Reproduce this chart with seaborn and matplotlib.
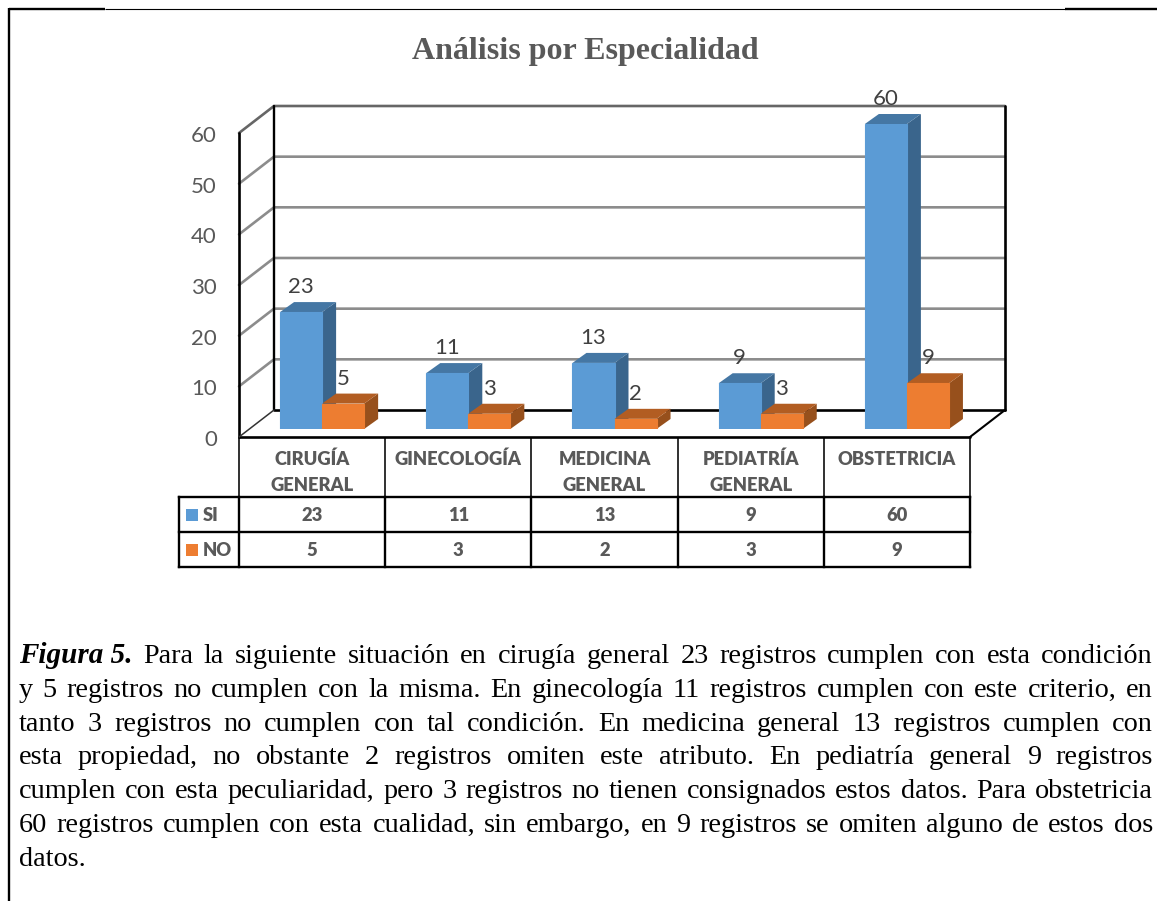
import matplotlib
matplotlib.use("Agg")
import matplotlib.pyplot as plt
from matplotlib.patches import Polygon, Rectangle
from matplotlib.transforms import ScaledTranslation
import pandas as pd
import seaborn as sns

# Chart data
especialidades = ["CIRUGÍA\nGENERAL", "GINECOLOGÍA", "MEDICINA\nGENERAL", "PEDIATRÍA\nGENERAL", "OBSTETRICIA"]
si_valores = [23, 11, 13, 9, 60]
no_valores = [5, 3, 2, 3, 9]
y_ticks = [0, 10, 20, 30, 40, 50, 60]

titulo = "Análisis por Especialidad"
pie_lineas = [
    "Para la siguiente situación en cirugía general 23 registros cumplen con esta condición",
    "y 5 registros no cumplen con la misma. En ginecología 11 registros cumplen con este criterio, en",
    "tanto 3 registros no cumplen con tal condición. En medicina general 13 registros cumplen con",
    "esta propiedad, no obstante 2 registros omiten este atributo. En pediatría general 9 registros",
    "cumplen con esta peculiaridad, pero 3 registros no tienen consignados estos datos. Para obstetricia",
    "60 registros cumplen con esta cualidad, sin embargo, en 9 registros se omiten alguno de estos dos",
    "datos.",
]
pie_inicio = "Figura 5."

# Colours
AZUL, AZUL_TOPE, AZUL_LADO = "#5B9BD5", "#4577A4", "#3A658C"
NARANJA, NARANJA_TOPE, NARANJA_LADO = "#ED7D31", "#B25D22", "#97501C"
GRIS_TEXTO, GRIS_REJILLA = "#595959", "#8C8C8C"
LATO = "Lato"
SERIF = "Liberation Serif"

sns.set_theme(style="white")
W, H = 1157, 901
fig = plt.figure(figsize=(W / 100, H / 100), dpi=100, facecolor="white")


def caja(x0, y0, x1, y1):
    """Axes rectangle from pixel edges, y measured from the top."""
    return [x0 / W, 1 - y1 / H, (x1 - x0) / W, (y1 - y0) / H]


# Page layer: frame, title, table and caption, in pixel units
page = fig.add_axes([0, 0, 1, 1], zorder=0)
page.set_xlim(0, W)
page.set_ylim(H, 0)
page.axis("off")

page.plot([9, 9], [8, H], color="black", lw=1.7, solid_capstyle="butt")
page.plot([9, 105], [8.5, 8.5], color="black", lw=1.7, solid_capstyle="butt")
page.plot([105, 1065], [9, 9], color="black", lw=0.8, solid_capstyle="butt")
page.plot([1065, W], [8.5, 8.5], color="black", lw=1.7, solid_capstyle="butt")

page.text(585.5, 51, titulo, family=SERIF, weight="bold", fontsize=23, color=GRIS_TEXTO,
          ha="center", va="center")

# Back walls and floor, sharing the value scale of the front plane
X0, X1, Y0, Y60 = 239, 970, 437, 133
walls = fig.add_axes(caja(X0, Y60, X1, Y0), zorder=1)
walls.set_xlim(0, len(especialidades))
walls.set_ylim(0, 60)
walls.patch.set_alpha(0)
sns.despine(ax=walls, left=True, bottom=True)
walls.set_xticks([])
walls.set_yticks(y_ticks)
walls.tick_params(axis="y", length=0, pad=16, labelsize=16, labelcolor=GRIS_TEXTO)
bajar = ScaledTranslation(0, -3 / 100, fig.dpi_scale_trans)
for lab in walls.get_yticklabels():
    lab.set_family(LATO)
    lab.set_verticalalignment("center")
    lab.set_transform(lab.get_transform() + bajar)

n_cat = len(especialidades)
prof_x = 35 / ((X1 - X0) / n_cat)
prof_y = 27 / ((Y0 - Y60) / 60)
for v in y_ticks[1:]:
    color = "#666666" if v == 60 else GRIS_REJILLA
    walls.plot([0, prof_x, n_cat + prof_x], [v, v + prof_y, v + prof_y],
               color=color, lw=1.9, clip_on=False, solid_joinstyle="miter", zorder=1)
walls.plot([0, 0], [0, 60], color="black", lw=1.9, clip_on=False, zorder=2)
walls.plot([prof_x, prof_x], [prof_y, 60 + prof_y], color="black", lw=1.7, clip_on=False, zorder=2)
walls.plot([n_cat + prof_x, n_cat + prof_x], [prof_y, 60 + prof_y], color="black", lw=1.9,
           clip_on=False, zorder=2)
walls.plot([0, n_cat + 0], [0, 0], color="black", lw=1.9, clip_on=False, zorder=2)
walls.plot([prof_x, n_cat + prof_x], [prof_y, prof_y], color="black", lw=1.9, clip_on=False, zorder=2)
walls.plot([0, prof_x], [0, prof_y], color="#333333", lw=1.1, clip_on=False, zorder=2)
walls.plot([n_cat, n_cat + prof_x], [0, prof_y], color="black", lw=1.5, clip_on=False, zorder=2)

# Bars: the axes sit slightly forward of the front plane, on the chart floor
barras_ax = fig.add_axes(caja(249, 124, 980, 429), zorder=2)
barras_ax.patch.set_alpha(0)
df = pd.DataFrame({
    "especialidad": especialidades * 2,
    "serie": ["SI"] * n_cat + ["NO"] * n_cat,
    "valor": si_valores + no_valores,
})
sns.barplot(data=df, x="especialidad", y="valor", hue="serie", hue_order=["SI", "NO"],
            palette={"SI": AZUL, "NO": NARANJA}, width=0.575, gap=0, legend=False,
            errorbar=None, ax=barras_ax, saturation=1, linewidth=0.8, zorder=3)
barras_ax.set_xlim(-0.5, n_cat - 0.5)
barras_ax.set_ylim(0, 60)
barras_ax.axis("off")

# Side and top faces follow each bar rectangle; NO bars cover the SI side faces
cat_px = (980 - 249) / n_cat
caras = [(AZUL_TOPE, AZUL_LADO, c) for c in barras_ax.containers[0]]
caras += [(NARANJA_TOPE, NARANJA_LADO, c) for c in barras_ax.containers[1]]
d_x = 14 / cat_px
d_y = 10 / (305 / 60)
for i, (c_top, c_side, rect) in enumerate(caras):
    x, w, h = rect.get_x(), rect.get_width(), rect.get_height()
    z = 2 if i < n_cat else 2.5
    rect.set_edgecolor(rect.get_facecolor())
    rect.set_zorder(z + 0.2)
    barras_ax.add_patch(Polygon([(x + w, 0), (x + w + d_x, d_y), (x + w + d_x, h + d_y), (x + w, h)],
                                facecolor=c_side, edgecolor="none", clip_on=False, zorder=z))
    barras_ax.add_patch(Polygon([(x, h), (x + d_x, h + d_y), (x + w + d_x, h + d_y), (x + w, h)],
                                facecolor=c_top, edgecolor="none", clip_on=False, zorder=z))
    barras_ax.annotate(f"{h:g}", (x + w / 2, h), xytext=(0, 18), textcoords="offset points",
                       ha="center", va="center", family=LATO, fontsize=16, color="#404040",
                       annotation_clip=False, zorder=6)

# Data table under the chart
cols = [X0 + i * (X1 - X0) / n_cat for i in range(n_cat + 1)]
filas = [437, 497, 532, 567]
for x in cols:
    page.plot([x, x], [filas[0], filas[1]], color="#303030", lw=1.4, solid_capstyle="butt")
    page.plot([x, x], [filas[1], filas[-1]], color="black", lw=1.7, solid_capstyle="projecting")
page.plot([179, 179], [filas[1], filas[3]], color="black", lw=1.7, solid_capstyle="projecting")
for y in filas[1:]:
    page.plot([179, X1], [y, y], color="black", lw=1.7, solid_capstyle="projecting")

tabla = dict(family=LATO, weight="heavy", color=GRIS_TEXTO, fontsize=13.2, ha="center")
for i, nombre in enumerate(especialidades):
    cx = (cols[i] + cols[i + 1]) / 2
    for j, parte in enumerate(nombre.split("\n")):
        page.text(cx, 459.5 + 26 * j, parte, va="center", **tabla)
    page.text(cx, 515.5, f"{si_valores[i]}", va="center", **tabla)
    page.text(cx, 550.5, f"{no_valores[i]}", va="center", **tabla)

for serie, color, yc in [("SI", AZUL, 514.5), ("NO", NARANJA, 549.5)]:
    page.add_patch(Rectangle((186, yc - 6), 12, 12, facecolor=color, edgecolor="none"))
    page.text(203, yc + 1, serie, va="center", ha="left", family=LATO, weight="heavy",
              color=GRIS_TEXTO, fontsize=13.2)

# Justified caption, set word by word on fixed baselines
renderer = fig.canvas.get_renderer()
CAP_L, CAP_R = 19, 1153
CAP_BASE = [663, 697, 731, 764.5, 798, 832, 865.5]
FS = 20.3


def ancho(t):
    return t.get_window_extent(renderer).width


for n, (linea, y) in enumerate(zip(pie_lineas, CAP_BASE)):
    piezas = []
    if n == 0:
        piezas.append(page.text(CAP_L, y, pie_inicio, family=SERIF, weight="bold", style="italic",
                                fontsize=FS + 0.7, color="black", va="baseline", ha="left"))
    for palabra in linea.split():
        piezas.append(page.text(CAP_L, y, palabra, family=SERIF, fontsize=FS, color="black",
                                va="baseline", ha="left"))
    anchos = [ancho(t) for t in piezas]
    ultima = n == len(pie_lineas) - 1
    hueco = 6 if ultima else (CAP_R - CAP_L - sum(anchos)) / (len(piezas) - 1)
    x = CAP_L
    for t, a in zip(piezas, anchos):
        t.set_x(x)
        x += a + hueco

fig.savefig("out.png", dpi=100, facecolor="white")
